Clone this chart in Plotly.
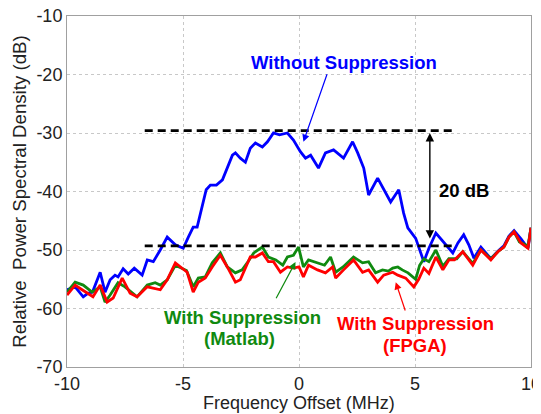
import plotly.graph_objects as go

# ---- data ----
blue_x = [-10, -9.65, -9.3, -9.1, -8.9, -8.57, -8.36, -8.14, -7.93, -7.8, -7.58, -7.36, -7.1, -6.76, -6.54,
          -6.28, -5.98, -5.68, -5.33, -4.99, -4.77, -4.56, -4.39, -4.17, -4.0, -3.82, -3.56, -3.3, -3.09,
          -2.87, -2.74, -2.53, -2.31, -2.1, -1.88, -1.58, -1.36, -1.1, -0.84, -0.5, -0.24, 0.06, 0.28, 0.5,
          0.84, 1.14, 1.49, 1.92, 2.31, 2.53, 2.79, 3.0, 3.39, 3.65, 3.95, 4.3, 4.51, 4.69, 4.82, 5.03, 5.38,
          5.6, 5.9, 6.1, 6.33, 6.63, 6.85, 7.1, 7.32, 7.54, 7.84, 8.27, 8.57, 8.83, 9.05, 9.27, 9.57, 9.87, 10]
blue_y = [-56.8, -56.3, -58, -57.4, -57.2, -53.8, -57.2, -55.1, -54.3, -54.6, -53.2, -54.1, -53.1, -54.3, -51.7,
          -52, -50, -47.8, -49.1, -49.7, -47.8, -46.1, -46.1, -42.6, -39.7, -38.9, -38.9, -38, -36,
          -33.8, -33.4, -34.3, -35, -32.6, -31.7, -32.4, -31.5, -30, -30.3, -30, -31.2, -33.2, -34.3, -33.8,
          -36, -33.4, -32.9, -34.3, -31.5, -33.4, -36, -40.6, -37.7, -39.7, -41.8, -39.7, -43.7, -46.2, -46.9, -48, -52,
          -49.7, -47.1, -48, -49.1, -50.5, -48.8, -47.4, -49.1, -51.4, -49.5, -51.5, -50.2, -49.3, -47.6, -46.7, -48.1, -49.7, -46.2]

green_x = [-10, -9.65, -9.3, -8.92, -8.57, -8.36, -8.14, -7.8, -7.5, -6.98, -6.54, -6.2, -5.98, -5.68, -5.33,
           -4.85, -4.56, -4.34, -4.04, -3.74, -3.39, -3.09, -2.74, -2.45, -2.2, -1.95, -1.58, -1.32, -1.0,
           -0.7, -0.5, -0.24, -0.02, 0.19, 0.41, 0.8, 1.1, 1.36, 1.58, 1.9, 2.35, 2.74, 3.0, 3.3, 3.6, 3.85,
           4.04, 4.26, 4.45, 4.7, 5.03, 5.2, 5.38, 5.6, 5.9, 6.2, 6.46, 6.8, 7.06, 7.49, 7.84, 8.27, 8.57,
           8.83, 9.05, 9.27, 9.5, 9.87, 10]
green_y = [-57.2, -55.5, -56, -57.2, -56.3, -58.9, -57.7, -55.6, -56.3, -58, -56, -55.6, -56, -55.1, -52.6,
           -53.5, -56.3, -54.8, -54.6, -52.2, -50.5, -52.9, -53.9, -53.4, -52, -50.5, -49.5, -51.2, -51.7,
           -52.6, -51.2, -50.9, -49.5, -52.9, -51.7, -52.2, -52.6, -51.2, -53.8, -52.9, -51.2, -52.2, -52, -53.9, -53.4, -53.6,
           -53.1, -52.9, -53.4, -53.9, -55, -52.6, -51.5, -52, -50, -52.8, -51.5, -51.5, -50.3, -52.3, -50, -51.5, -50.3,
           -49.5, -47.8, -46.9, -48.6, -49.3, -46.2]

red_x = [-10, -9.65, -9.35, -8.88, -8.57, -8.27, -8.01, -7.62, -7.28, -6.98, -6.54, -6.33, -5.98, -5.68, -5.33,
         -4.82, -4.56, -4.34, -4.04, -3.74, -3.39, -3.09, -2.74, -2.53, -2.31, -2.1, -1.88, -1.58, -1.32, -1.1,
         -0.8, -0.5, -0.24, 0.0, 0.19, 0.41, 0.8, 1.14, 1.45, 1.58, 1.92, 2.35, 2.74, 3.0, 3.39, 3.65, 4.04,
         4.26, 4.6, 4.95, 5.16, 5.38, 5.6, 5.9, 6.2, 6.46, 6.7, 7.06, 7.49, 7.84, 8.27, 8.57, 8.83, 9.05, 9.27,
         9.57, 9.87, 10]
red_y = [-57.7, -56, -56.8, -58, -56, -58.9, -58.2, -54.8, -57.4, -58, -56.3, -56.5, -56.8, -55.1, -52.2,
         -53.8, -57.2, -55.5, -54.8, -52.9, -50.9, -52.9, -55.5, -55.1, -53.1, -51.2, -51.2, -50.5, -52, -52,
         -53.8, -52.9, -53.1, -52.9, -54.6, -52.6, -53.4, -53.9, -52.9, -54.8, -53.4, -51.7, -53.8, -53.4, -55.5, -54.3, -53.8,
         -54.3, -54.8, -56.3, -55, -53.1, -54, -51.2, -53.4, -51.7, -51.7, -50.3, -52.6, -50, -51.7, -50.3, -49.5, -47.8, -46.9,
         -48.8, -49.7, -46.2]

x_ticks = [-10, -5, 0, 5, 10]
y_ticks = [-70, -60, -50, -40, -30, -20, -10]

top_level = -29.6
bottom_level = -49.3
level_x = [-6.65, 6.7]

FONT = "Liberation Sans, Arial, sans-serif"
TXT = "#222222"

fig = go.Figure()
fig.add_trace(go.Scatter(x=blue_x, y=blue_y, mode="lines", line=dict(color="#0000ff", width=2.8), showlegend=False))
fig.add_trace(go.Scatter(x=green_x, y=green_y, mode="lines", line=dict(color="#108a10", width=2.8), showlegend=False))
fig.add_trace(go.Scatter(x=red_x, y=red_y, mode="lines", line=dict(color="#ff0000", width=2.8), showlegend=False))
fig.add_trace(go.Scatter(x=level_x, y=[top_level, top_level], mode="lines",
                         line=dict(color="black", width=2.8, dash="8px,5px"), showlegend=False))
fig.add_trace(go.Scatter(x=level_x, y=[bottom_level, bottom_level], mode="lines",
                         line=dict(color="black", width=2.8, dash="8px,5px"), showlegend=False))

def arrow(x0, y0, x1, y1, color, side="end", width=1.2):
    fig.add_annotation(x=x1, y=y1, ax=x0, ay=y0, xref="x", yref="y", axref="x", ayref="y",
                       text="", showarrow=True, arrowhead=2, arrowsize=1.2, arrowwidth=width,
                       arrowcolor=color, arrowside=side)

def label(x, y, text, color):
    fig.add_annotation(x=x, y=y, xref="x", yref="y", text="<b>" + text + "</b>", showarrow=False,
                       font=dict(family=FONT, size=18.5, color=color))

arrow(1.23, -19.7, 0.19, -31.5, "#0000ff")
arrow(-1.02, -58.5, -0.15, -52.05, "#108a10")
arrow(4.6, -60.6, 4.17, -55.5, "#ff0000")
arrow(5.64, -48.3, 5.64, -30.0, "black", side="end+start", width=1.4)

label(1.95, -18.0, "Without Suppression", "#0000ff")
label(7.1, -39.9, "20 dB", "black")
label(-2.45, -61.6, "With Suppression", "#108a10")
label(-2.55, -65.2, "(Matlab)", "#108a10")
label(5.0, -62.5, "With Suppression", "#ff0000")
label(5.0, -66.4, "(FPGA)", "#ff0000")

# x-axis title placed just below the tick labels
fig.add_annotation(x=0.5, y=0, xref="paper", yref="paper", yanchor="middle", yshift=-36,
                   text="Frequency Offset (MHz)", showarrow=False, font=dict(family=FONT, size=18, color=TXT))

axis_common = dict(showgrid=True, gridcolor="#c8c8c8", griddash="dot", gridwidth=1,
                   showline=True, linecolor="#a0a0a0", linewidth=1, mirror=True, automargin=False,
                   ticklabeloverflow="allow",
                   ticks="", zeroline=False, tickfont=dict(family=FONT, size=18, color=TXT))

fig.update_xaxes(range=[-10, 10], tickvals=x_ticks, ticktext=[str(v) for v in x_ticks], **axis_common)
fig.update_yaxes(range=[-70, -10], tickvals=y_ticks, ticktext=[str(v) for v in y_ticks],
                 title=dict(text="Relative  Power Spectral Density (dB)", font=dict(family=FONT, size=18.7, color=TXT), standoff=4),
                 **axis_common)

# page body has an 8px default margin, so the figure is placed 8px in from the window corner
fig.update_layout(width=533, height=406, margin=dict(l=59, r=10, t=8, b=47),
                  plot_bgcolor="white", paper_bgcolor="white")

fig.write_html("out.html")
